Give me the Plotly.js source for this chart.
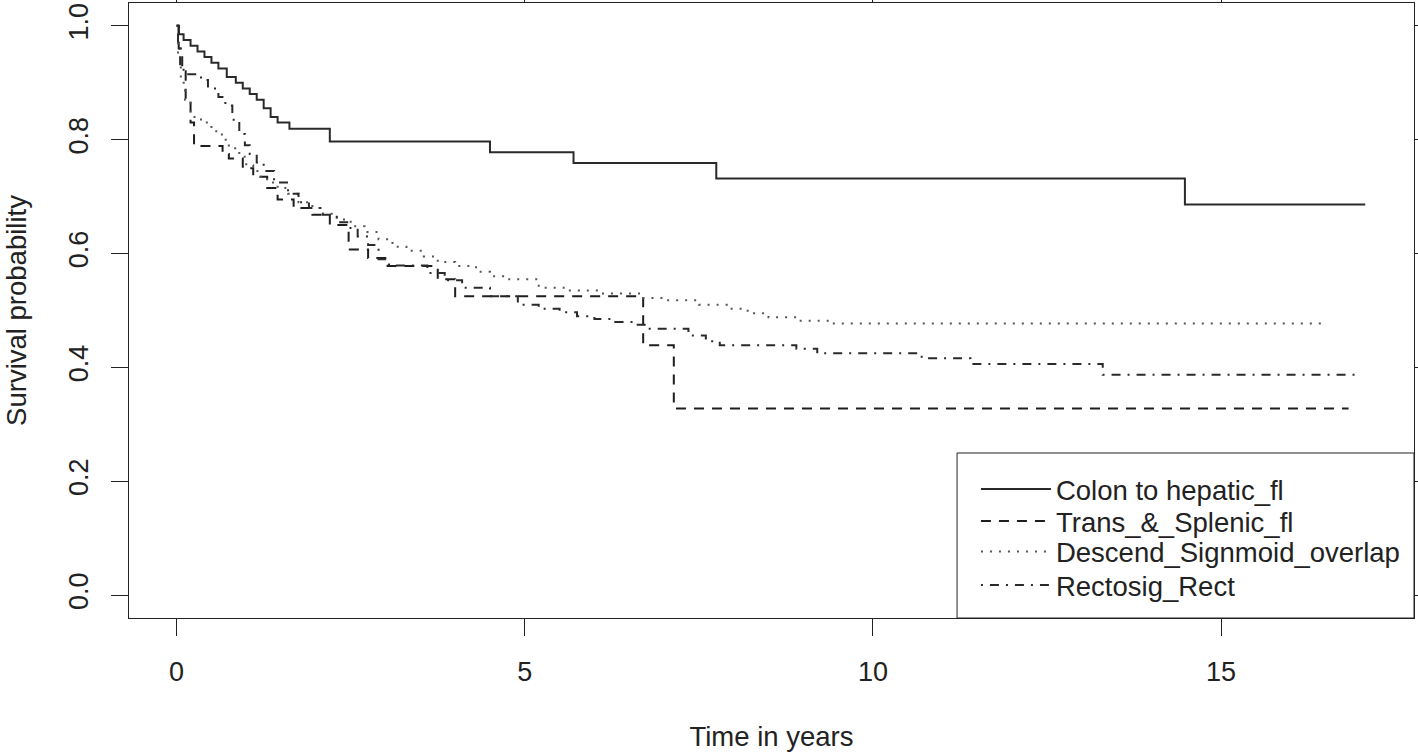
<!DOCTYPE html>
<html>
<head>
<meta charset="utf-8">
<script src="https://cdn.plot.ly/plotly-3.0.1.min.js"></script>
<style>html,body{margin:0;padding:0;background:#fff;}#chart{width:1418px;height:755px;}</style>
</head>
<body>
<div id="chart"></div>
<script>
// Kaplan-Meier style step curves (time in years, survival probability)
const colonT = [0, 0.03, 0.1, 0.2, 0.3, 0.4, 0.5, 0.6, 0.72, 0.85, 0.95, 1.05, 1.15, 1.25, 1.35, 1.45, 1.62, 2.2, 4.5, 5.7, 7.75, 14.48, 17.07];
const colonS = [1.0, 0.985, 0.975, 0.965, 0.955, 0.945, 0.935, 0.925, 0.91, 0.9, 0.89, 0.88, 0.87, 0.855, 0.84, 0.83, 0.819, 0.797, 0.778, 0.759, 0.732, 0.686, 0.686];

const transT = [0, 0.03, 0.08, 0.13, 0.2, 0.25, 0.66, 0.75, 0.95, 1.1, 1.3, 1.45, 1.68, 1.95, 2.2, 2.47, 2.75, 3.03, 3.75, 4.0, 6.7, 7.14, 16.83];
const transS = [1.0, 0.96, 0.92, 0.87, 0.83, 0.789, 0.775, 0.767, 0.75, 0.735, 0.715, 0.695, 0.68, 0.668, 0.65, 0.607, 0.592, 0.578, 0.555, 0.525, 0.439, 0.328, 0.328];

const descT = [0, 0.02, 0.06, 0.12, 0.2, 0.35, 0.5, 0.65, 0.75, 0.9, 1.0, 1.1, 1.2, 1.3, 1.45, 1.6, 1.75, 1.95, 2.1, 2.3, 2.5, 2.7, 2.9, 3.1, 3.3, 3.55, 3.75, 4.0, 4.3, 4.5, 4.75, 5.2, 5.6, 6.1, 6.7, 7.0, 7.5, 7.9, 8.2, 8.5, 8.9, 9.4, 16.52];
const descS = [1.0, 0.95, 0.9, 0.87, 0.84, 0.83, 0.815, 0.8, 0.785, 0.77, 0.755, 0.745, 0.735, 0.725, 0.715, 0.705, 0.69, 0.68, 0.67, 0.66, 0.648, 0.638, 0.625, 0.612, 0.605, 0.595, 0.585, 0.578, 0.568, 0.56, 0.555, 0.54, 0.535, 0.53, 0.522, 0.518, 0.51, 0.503, 0.495, 0.488, 0.482, 0.477, 0.477];

const rectT = [0, 0.02, 0.05, 0.1, 0.35, 0.45, 0.6, 0.7, 0.8, 0.9, 0.98, 1.05, 1.15, 1.25, 1.4, 1.6, 1.75, 1.9, 2.1, 2.3, 2.45, 2.6, 2.75, 2.9, 3.05, 3.6, 3.85, 4.1, 4.5, 4.9, 5.2, 5.5, 5.75, 6.0, 6.3, 6.55, 6.75, 7.35, 7.6, 7.8, 8.9, 9.2, 10.7, 11.4, 13.3, 16.97];
const rectS = [1.0, 0.96, 0.93, 0.915, 0.905, 0.89, 0.875, 0.86, 0.835, 0.81, 0.79, 0.775, 0.76, 0.745, 0.725, 0.705, 0.69, 0.68, 0.668, 0.655, 0.645, 0.63, 0.615, 0.59, 0.579, 0.566, 0.553, 0.54, 0.525, 0.51, 0.503, 0.497, 0.49, 0.485, 0.48, 0.475, 0.468, 0.456, 0.446, 0.439, 0.433, 0.425, 0.416, 0.406, 0.387, 0.387];

const seriesNames = ["Colon to hepatic_fl", "Trans_&_Splenic_fl", "Descend_Signmoid_overlap", "Rectosig_Rect"];
const xTicks = [0, 5, 10, 15];
const yTicks = [0.0, 0.2, 0.4, 0.6, 0.8, 1.0];
const yTickText = ["0.0", "0.2", "0.4", "0.6", "0.8", "1.0"];

const FONT = "Liberation Sans, Arial, Helvetica, sans-serif";
const TXT = "#222";

function mk(x, y, name, dash, color, leg) {
  return {x: x, y: y, name: name, type: "scatter", mode: "lines", legend: leg,
    line: {shape: "hv", dash: dash, color: color, width: 2}, hoverinfo: "skip"};
}

const traces = [
  mk(colonT, colonS, seriesNames[0], "solid", "#2a2a2a", "legend"),
  mk(transT, transS, seriesNames[1], "10px,8px", "#1e1e1e", "legend2"),
  mk(descT, descS, seriesNames[2], "2px,7px", "#555555", "legend3"),
  mk(rectT, rectS, seriesNames[3], "2px,7px,9px,7px", "#2a2a2a", "legend4")
];

function leg(yc) {
  return {x: 0.6591, y: yc, xanchor: "left", yanchor: "middle",
    bgcolor: "rgba(0,0,0,0)", borderwidth: 0,
    font: {family: FONT, size: 27.5, color: TXT}, itemwidth: 70};
}

const layout = {
  width: 1418, height: 755,
  margin: {l: 129, r: 4, t: 3, b: 137},
  paper_bgcolor: "#fff", plot_bgcolor: "#fff",
  font: {family: FONT, size: 27, color: TXT},
  showlegend: true,
  legend: leg(0.2095),
  legend2: leg(0.1575),
  legend3: leg(0.108),
  legend4: leg(0.0535),
  xaxis: {
    range: [-0.684, 17.77], autorange: false,
    tickmode: "array", tickvals: xTicks, ticktext: xTicks.map(String),
    ticks: "outside", ticklen: 17, tickwidth: 1, tickcolor: TXT,
    showline: true, linecolor: TXT, linewidth: 1, mirror: "all",
    showgrid: false, zeroline: false,
    tickfont: {family: FONT, size: 27, color: TXT},
    ticklabelstandoff: 13,
    title: {text: "Time in years", font: {family: FONT, size: 27.5, color: TXT}, standoff: 40}
  },
  yaxis: {
    range: [-0.04, 1.04], autorange: false,
    tickmode: "array", tickvals: yTicks, ticktext: yTickText,
    ticks: "outside", ticklen: 17, tickwidth: 1, tickcolor: TXT,
    showline: true, linecolor: TXT, linewidth: 1, mirror: "all",
    showgrid: false, zeroline: false, tickangle: -90,
    tickfont: {family: FONT, size: 27, color: TXT},
    ticklabelstandoff: 12,
    title: {text: "Survival probability", font: {family: FONT, size: 27.5, color: TXT}, standoff: 29}
  },
  shapes: [{type: "rect", xref: "paper", yref: "paper", x0: 0.6444, x1: 1, y0: 0, y1: 0.2683,
    line: {color: TXT, width: 1}, fillcolor: "rgba(0,0,0,0)", layer: "above"}]
};

Plotly.newPlot("chart", traces, layout, {displayModeBar: false, staticPlot: true});
</script>
</body>
</html>
